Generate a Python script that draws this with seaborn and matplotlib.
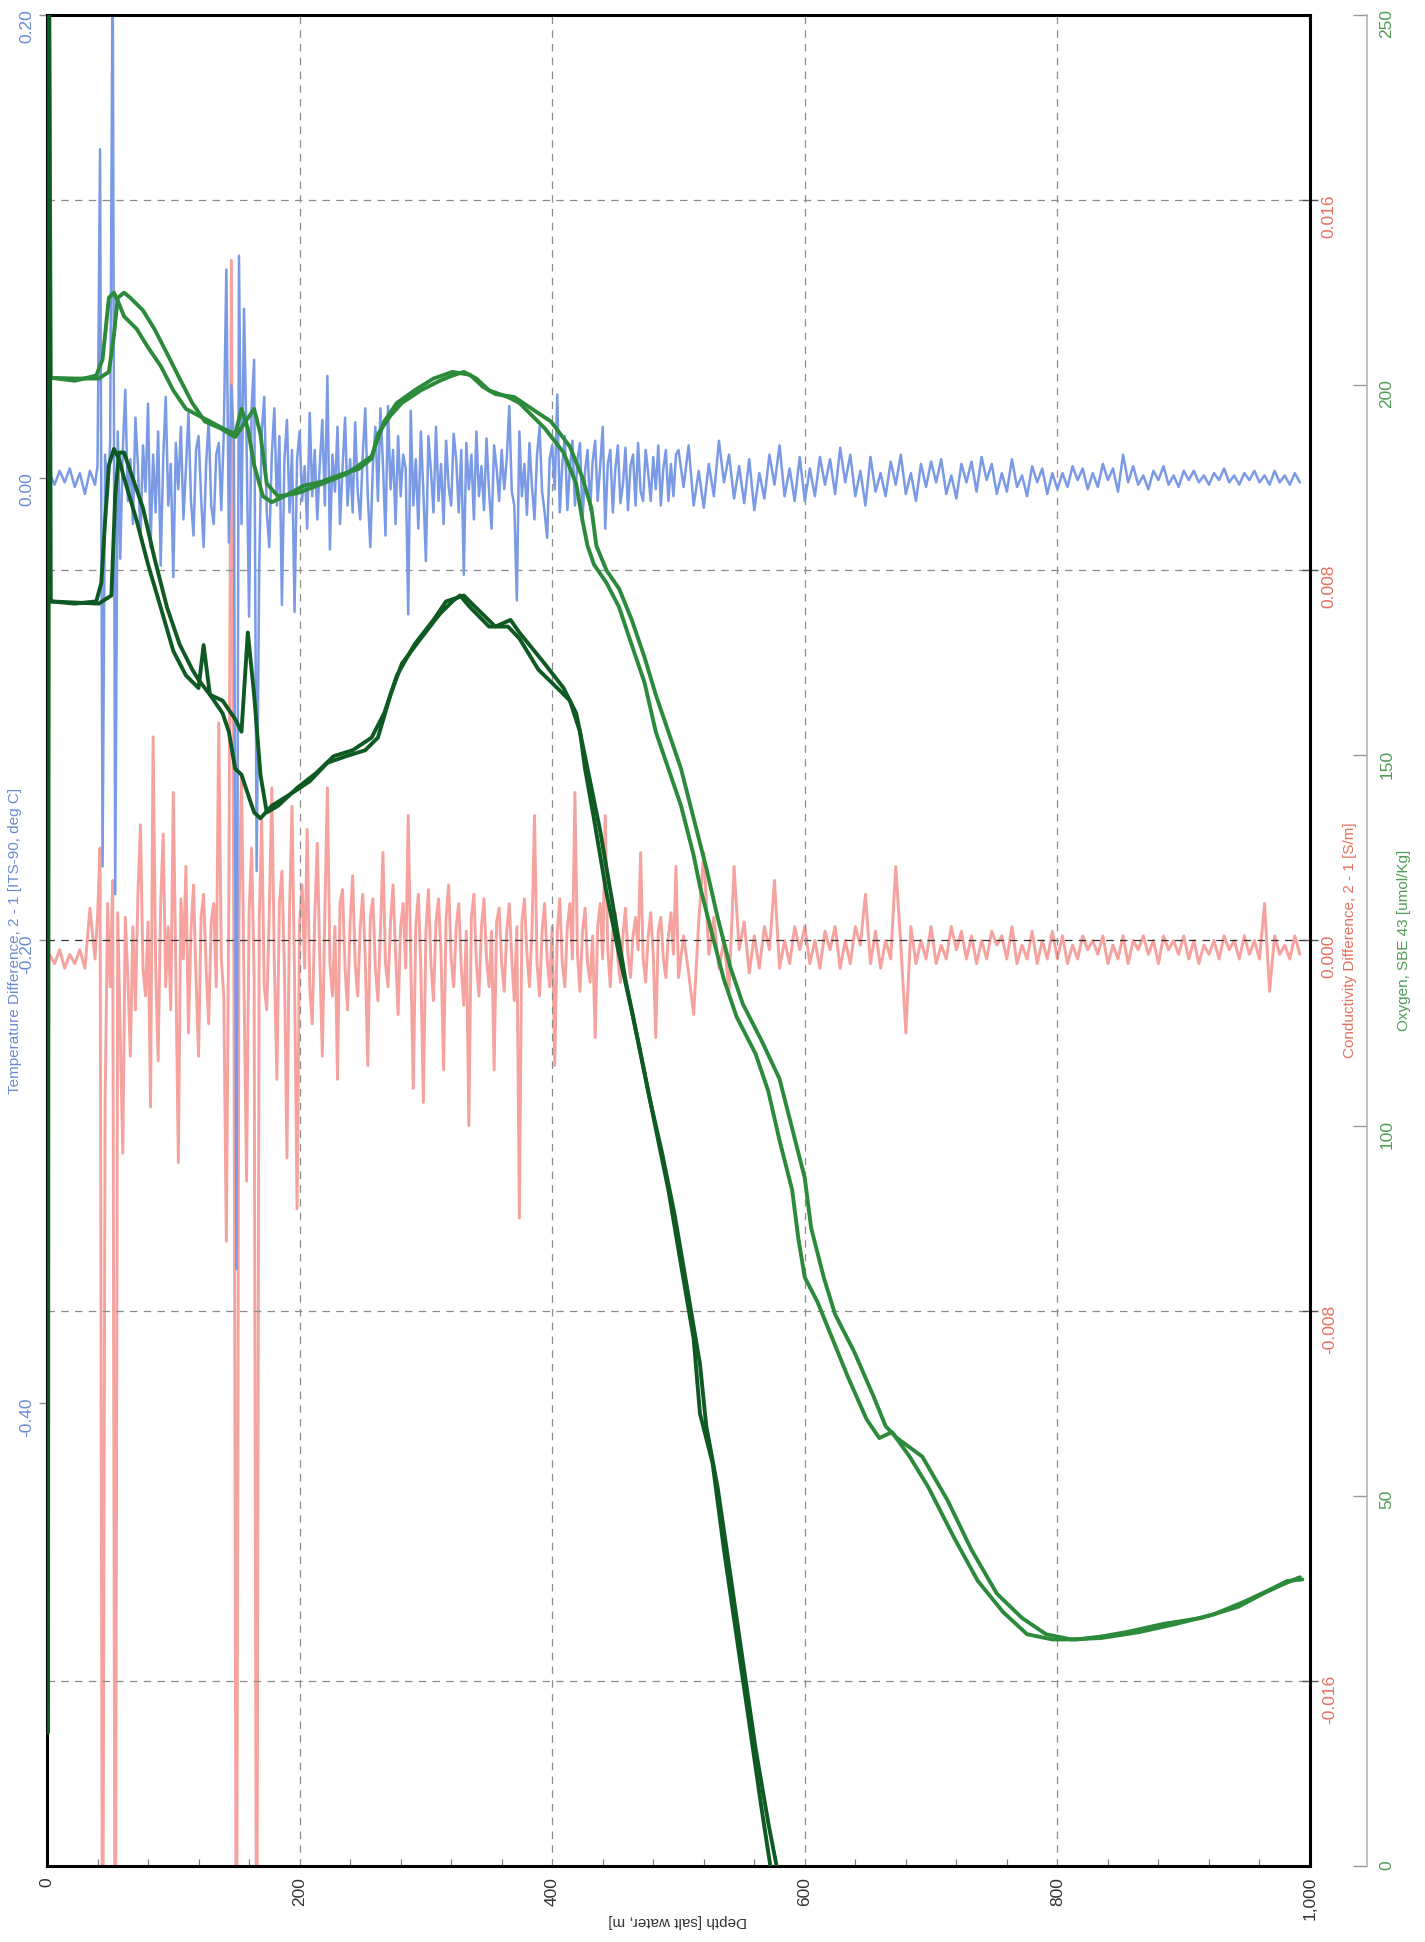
import numpy as np
import matplotlib
matplotlib.use('Agg')
import matplotlib.pyplot as plt
import seaborn as sns

# depth samples of the two difference channels [m] (finer where the signal is busy)
noise_depth = np.concatenate([np.arange(2, 40, 4), np.arange(40, 500, 2), np.arange(500, 993, 4)])

# Temperature Difference, 2 - 1  [milli deg C]
temp_diff_mdeg = [
    # 2 .. 38 m
    2, -3, 3, -2, 4, -4, 2, -7, 3, -3,
    # 40 .. 498 m, 2 m steps, one row = 50 m
    5, 142, -168, 10, -8, 15, 230, -180, 20, -35, 12, 38, -10, 8, -20, 26, 5, -25, 14, -6, 32, -30, 10, -15, 20,
    -38, 8, 35, -12, 6, -43, 15, -5, 22, -18, 4, 28, -10, -25, 12, 18, -8, -30, 6, 25, -12, -20, 10, 15, -14,
    20, 90, -28, 40, 15, -342, 96, -20, 73, 15, -60, 30, 51, -170, -40, 20, 35, -15, -30, 10, 30, -12, 18, -55, 8,
    25, -15, 12, -58, 8, 20, -10, 5, -22, 28, -8, 12, -18, 6, 25, -12, 44, -31, 10, -6, 22, -20, 4, 26, -12,
    8, -15, 24, -6, -18, 10, 30, -8, -30, 5, 22, -10, 30, 6, -25, 31, -5, 12, -20, 18, -8, 10, 4, -59, 29,
    -12, 8, -22, 20, -6, -36, 18, 3, -15, 22, -10, 6, -20, 16, -4, -12, 19, 8, -15, 12, -42, 15, -5, 10, -18,
    20, -8, 5, -14, 17, -6, -22, 14, 4, -10, 12, -5, 8, 31, -6, -12, -53, 20, -8, 6, -16, 15, -4, -18, 10,
    22, -6, -15, -26, 8, 14, -5, 36, -15, 6, 18, -14, 4, 16, -12, 8, 15, -18, 3, 12, -14, 7, 16, -10, 5,
    22, -22, 6, 12, -15, 4, 14, -11, -3, 13, -14, 5, 10, -12, 15, -6, -10, 12, 2, -10, 9, -5, 14, -12, 4,
    12, -10, 6, -8, 10,
    # 500 .. 992 m, 4 m steps, one row = 100 m
    12, -4, 14, -12, 3, -13, 6, -8, 16, -2, 10, -9, 5, -11, 8, -14, 2, -9, 10, -3, 14, -8, 4, -10, 9,
    -10, 4, -8, 9, -3, 8, -7, 13, -2, 10, -8, 3, -12, 9, -6, 2, -8, 7, -3, 10, -7, 2, -10, 6, -4,
    7, -2, 8, -7, 1, -9, 6, -2, 7, -6, 9, -1, 6, -7, 2, -6, 8, -4, 1, -8, 5, -2, 4, -7, 2,
    -5, 2, -4, 5, -1, 4, -5, 2, -4, 6, -1, 4, -6, 10, -2, 5, -3, 1, -5, 3, -1, 5, -3, 1, -4,
    3, -1, 3, -2, 1, -3, 2, -1, 4, -2, 1, -3, 2, -1, 3, -2, 1, -3, 3, -2, 1, -3, 2, -2,
]

# Conductivity Difference, 2 - 1  [mS/m]
cond_diff_mSm = [
    # 2 .. 38 m
    -0.3, -0.5, -0.2, -0.6, -0.3, -0.5, -0.2, -0.6, 0.7, -0.4,
    # 40 .. 498 m
    0.5, 2.0, -25, -3.5, 0.8, -1.0, 1.3, -25, 0.6, -2.0, -4.6, 0.5, -0.8, -2.5, 0.3, -1.5, 1.0, 2.5, -0.6, -1.2, 0.4, -3.6, 4.4, -0.5, -2.6,
    0.8, 2.3, -1.0, 0.3, -1.5, 3.2, -0.6, -4.8, 0.9, -0.4, 1.6, -2.0, 0.2, 1.2, -0.8, -2.5, 0.5, 1.0, -0.6, -1.8, 0.4, 0.8, -1.0, 4.7, -0.4,
    -1.2, -6.5, 1.0, 14.7, -0.8, -25, 0.5, 3.6, -1.0, -5.2, 0.6, 2.0, -0.8, -25, 0.4, 2.6, -1.0, -1.5, 0.6, 3.3, -0.5, -3.0, 0.8, 1.5, -0.6,
    -4.7, 0.6, 2.9, -0.8, -5.8, 0.4, 1.2, -0.6, 2.4, -1.0, -1.8, 0.5, 2.1, -0.4, -2.5, 0.6, 3.3, -0.5, -1.2, 0.3, -3.0, 0.8, 1.1, -0.6, -1.5,
    0.4, 1.4, -0.5, -1.2, 0.3, 1.0, -0.4, -2.7, 0.5, 0.9, -0.6, -1.3, 0.2, 1.9, -0.5, -1.0, 0.4, 1.2, -0.3, -1.6, 0.3, 0.8, -0.6, 2.7, -0.4,
    -3.2, 0.3, 1.0, -0.6, -3.5, 0.2, 1.1, -0.5, -1.3, 0.4, 0.9, -0.3, -2.8, 0.5, 1.2, -0.4, -1.0, 0.3, 0.8, -0.6, -1.4, 0.2, -4.0, 0.5, 1.0,
    -0.5, -1.2, 0.3, 0.9, -0.4, -1.0, 0.2, -2.8, 0.4, 0.7, -0.5, -1.1, 0.2, 0.8, -0.4, -1.3, 0.3, -6.0, 0.4, 0.9, -0.3, -1.0, 0.2, 2.7, -0.5,
    -1.2, 0.2, 0.8, -0.4, -1.0, 0.3, -2.7, 0.2, 0.9, -0.5, -1.0, 0.3, 0.8, -0.4, 3.2, -0.3, -1.1, 0.2, 0.7, -0.5, -0.9, 0.1, -2.1, 0.3, 0.8,
    -0.4, 2.7, -0.2, -1.0, 0.2, 0.6, -0.4, -0.9, 0.1, 0.7, -0.3, -0.8, 0.1, 0.5, -0.2, 1.9, -0.4, -0.9, 0.1, 0.6, -0.3, -2.1, 0.2, 0.5, -0.4,
    -0.8, 0.1, 0.6, -0.3, 1.6,
    # 500 .. 992 m
    -0.8, 0.1, -0.7, -1.6, 0.4, 1.9, -0.3, 0.5, -0.6, 0.0, -1.1, 1.6, -0.2, 0.4, -0.7, 0.1, -0.6, 0.3, -0.2, 1.3, -0.6, 0.0, -0.5, 0.3, -0.2,
    0.3, -0.5, 0.0, -0.6, 0.2, -0.2, 0.3, -0.6, 0.0, -0.5, 0.3, -0.1, 1.0, -0.5, 0.2, -0.6, 0.0, -0.4, 1.6, -0.1, -2.0, 0.3, -0.5, 0.0, -0.4,
    0.3, -0.5, -0.1, -0.4, 0.3, -0.2, 0.2, -0.4, 0.1, -0.5, 0.0, -0.4, 0.2, -0.1, 0.1, -0.4, 0.3, -0.5, -0.1, -0.4, 0.2, -0.5, 0.0, -0.4, 0.2,
    -0.4, 0.1, -0.5, -0.1, -0.4, 0.1, -0.2, 0.0, -0.3, 0.1, -0.5, -0.1, -0.4, 0.1, -0.5, 0.0, -0.2, 0.1, -0.3, 0.0, -0.5, 0.1, -0.2, 0.0, -0.3,
    0.1, -0.4, 0.0, -0.5, -0.1, -0.3, 0.0, -0.4, 0.1, -0.2, 0.0, -0.4, 0.1, -0.3, 0.0, -0.4, 0.8, -1.1, 0.1, -0.3, -0.1, -0.4, 0.1, -0.3,
]

# Oxygen, SBE 43 [umol/Kg] - light green pair
oxy_light_a_depth = [0.5, 1.5, 3, 22, 39, 44, 47, 49, 53, 57, 61, 71, 80, 90, 100, 110, 120, 129, 139, 149, 154, 159, 164,
                     171, 178, 188, 203, 218, 232, 247, 257, 262, 272, 281, 296, 311, 321, 330, 340, 350, 365, 374, 384,
                     394, 409, 419, 424, 428, 433, 443, 453, 463, 473, 482, 492, 502, 512, 517, 527, 536, 546, 561, 571,
                     580, 590, 595, 600, 610, 620, 634, 649, 659, 669, 683, 698, 718, 737, 757, 776, 796, 816, 835, 855,
                     884, 914, 943, 963, 978, 992]
oxy_light_a = [52, 262, 201, 200.6, 201.3, 203.5, 208.5, 211.8, 212.5, 211, 209.3, 207.6, 205.1, 202.6, 199.3, 196.8, 195.9,
               195.1, 194.2, 193.4, 196.8, 194.2, 189.2, 185, 184.2, 185, 186.4, 187, 187.9, 188.7, 190.1, 193.4, 195.9,
               197.6, 199.3, 200.6, 201.3, 201.8, 200.9, 199.3, 198.4, 197.6, 195.9, 194.2, 190.9, 186.7, 181.7, 178.3,
               175.8, 173.3, 170, 164.9, 159.9, 153.2, 148.2, 143.2, 136.5, 132.3, 125.6, 119.7, 114.7, 109.7, 104.7, 98,
               91.3, 84.6, 79.5, 76.2, 72, 66.1, 60.3, 57.8, 58.6, 55.3, 51.1, 44.4, 38.5, 34.3, 31.3, 30.6, 30.6, 31,
               31.6, 32.7, 33.5, 35, 36.8, 38, 39]

oxy_light_b_depth = [2, 22, 41, 49, 53, 56, 61, 66, 76, 85, 95, 105, 115, 125, 137, 149, 164, 169, 174, 183, 198, 218, 237,
                     257, 267, 277, 291, 306, 321, 335, 345, 355, 370, 384, 399, 414, 424, 431, 435, 443, 453, 463, 473,
                     482, 492, 502, 512, 522, 531, 541, 551, 566, 580, 590, 600, 605, 615, 624, 639, 654, 664, 673, 693,
                     713, 732, 752, 772, 791, 811, 835, 865, 894, 924, 948, 968, 982, 994]
oxy_light_b = [201, 200.9, 200.9, 201.8, 206.8, 211.8, 212.5, 211.8, 210.1, 207.6, 204.3, 200.9, 197.6, 195.1, 194.2, 193,
               196.8, 193.4, 186.7, 185, 185.4, 186.7, 188, 190.4, 195.1, 197.6, 199.3, 200.9, 201.8, 201.4, 199.8, 198.8,
               198.4, 196.8, 195.1, 191.7, 187.5, 183.4, 178.3, 175, 172.5, 168.3, 163.3, 158.2, 153.2, 148.2, 141.5,
               134.8, 128.1, 121.4, 116.4, 111.4, 106.3, 99.6, 92.9, 86.2, 79.5, 74.5, 69.5, 63.6, 59.4, 57.8, 55.3, 49.4,
               42.7, 36.8, 33.5, 31.3, 30.6, 30.8, 31.6, 32.7, 34, 35.7, 37.3, 38.5, 38.7]

# dark green pair
oxy_dark_a_depth = [0.8, 1.5, 3, 22, 39, 43, 46, 49, 53, 57, 61, 71, 80, 90, 100, 110, 120, 124, 129, 139, 144, 149, 154,
                    159, 164, 169, 178, 193, 208, 222, 237, 252, 262, 272, 281, 296, 311, 321, 327, 335, 350, 365, 374,
                    389, 404, 414, 422, 426, 433, 443, 453, 463, 473, 482, 492, 502, 512, 517, 527, 536, 546, 556, 566, 573]
oxy_dark_a = [18, 262, 170.8, 170.5, 170.8, 173.3, 181.7, 189.2, 191.4, 190, 187.5, 181.7, 175.8, 170, 164.1, 160.8, 159.1,
              164.9, 158.2, 155.7, 153.2, 148.2, 147.4, 144.8, 142.3, 141.5, 143.2, 144.8, 146.5, 149, 149.9, 150.7, 152.4,
              158.2, 162.4, 165.8, 169.1, 170.8, 171.6, 170, 167.4, 167.4, 165.8, 161.6, 159.1, 157.4, 153.2, 148.2, 141.5,
              131.4, 123.1, 115.5, 107.2, 99.6, 91.3, 81.2, 71.2, 61.1, 54.4, 42.7, 31, 19.3, 7.5, -0.3]

oxy_dark_b_depth = [2, 41, 51, 54, 57, 61, 66, 76, 85, 95, 105, 115, 120, 129, 139, 149, 154, 159, 164, 169, 174, 183, 198,
                    213, 227, 242, 257, 267, 277, 291, 306, 316, 330, 340, 355, 367, 374, 394, 409, 419, 428, 438, 448,
                    458, 468, 477, 487, 497, 507, 517, 522, 531, 541, 551, 561, 571, 578]
oxy_dark_b = [170.8, 170.5, 171.6, 185, 190.9, 190.9, 188.4, 183.4, 176.7, 170, 165, 161.6, 160.2, 158.2, 157.4, 154.9,
              153.2, 166.6, 158.2, 147.4, 142.3, 143.2, 145.6, 147.6, 149.9, 150.7, 152.4, 155.7, 160.8, 165, 168.3, 170.8,
              171.6, 169.9, 167.4, 168.3, 166.6, 162.4, 159.1, 155.7, 148.2, 139.8, 129.8, 119.7, 111.4, 103.8, 96.3, 87.9,
              77.9, 67.8, 59.4, 51.1, 39.4, 27.6, 15.9, 5.9, -0.3]

depth_ticks = [0, 200, 400, 600, 800, 1000]
depth_labels = ['0', '200', '400', '600', '800', '1,000']
temp_ticks = [-0.4, -0.2, 0.0, 0.2]
temp_labels = ['-0.40', '-0.20', '0.00', '0.20']
cond_ticks = [-0.016, -0.008, 0.0, 0.008, 0.016]
cond_labels = ['-0.016', '-0.008', '0.000', '0.008', '0.016']
oxy_ticks = [0, 50, 100, 150, 200, 250]
oxy_labels = ['0', '50', '100', '150', '200', '250']

BLUE = '#7a9ae6'
BLUE_TXT = '#6a8ad4'
PINK = '#f6a29e'
RED_TXT = '#e4705e'
LIGHT_GREEN = '#2c8a3b'
DARK_GREEN = '#0f5a23'
GREEN_TXT = '#4f9a55'

sns.set_style('white')
plt.rcParams['font.family'] = ['Liberation Sans', 'DejaVu Sans']

temp = np.array(temp_diff_mdeg) / 1000.0
cond = np.array(cond_diff_mSm) / 1000.0

fig = plt.figure(figsize=(14.25, 19.42), dpi=100, facecolor='white')
ax_t = fig.add_axes([47 / 1425, 1 - 1866 / 1942, 1263 / 1425, 1851 / 1942])
ax_c = ax_t.twinx()
ax_o = ax_t.twinx()

# layering: conductivity at the back, temperature, then oxygen on top
ax_c.set_zorder(1)
ax_t.set_zorder(2)
ax_o.set_zorder(3)
ax_c.patch.set_visible(True)
ax_c.patch.set_facecolor('white')
ax_t.patch.set_visible(False)
ax_o.patch.set_visible(False)

sns.lineplot(x=noise_depth, y=cond, ax=ax_c, color=PINK, lw=2.1, estimator=None)
sns.lineplot(x=noise_depth, y=temp, ax=ax_t, color=BLUE, lw=1.8, estimator=None)
sns.lineplot(x=oxy_light_a_depth, y=oxy_light_a, ax=ax_o, color=LIGHT_GREEN, lw=2.8, sort=False, estimator=None)
sns.lineplot(x=oxy_light_b_depth, y=oxy_light_b, ax=ax_o, color=LIGHT_GREEN, lw=2.8, sort=False, estimator=None)
sns.lineplot(x=oxy_dark_a_depth, y=oxy_dark_a, ax=ax_o, color=DARK_GREEN, lw=2.8, sort=False, estimator=None)
sns.lineplot(x=oxy_dark_b_depth, y=oxy_dark_b, ax=ax_o, color=DARK_GREEN, lw=2.8, sort=False, estimator=None)

ax_t.set_xlim(0, 1000)
ax_t.set_ylim(-0.6, 0.2)
ax_c.set_ylim(-0.02, 0.02)
ax_o.set_ylim(0, 250)

# depth axis
ax_t.set_xticks(depth_ticks, labels=depth_labels)
ax_t.set_xticks(np.arange(0, 1001, 40), minor=True)
ax_t.tick_params(axis='x', which='major', direction='inout', length=12, width=1, color='#555555',
                 labelsize=12.5, labelrotation=90, labelcolor='#333333', pad=2)
ax_t.tick_params(axis='x', which='minor', direction='in', length=5, width=0.8, color='#777777', bottom=True)
ax_t.set_xlabel('')

# temperature axis (left)
ax_t.set_yticks(temp_ticks, labels=temp_labels)
ax_t.tick_params(axis='y', direction='out', length=6, width=1, color='#888888',
                 labelsize=12.5, labelrotation=90, labelcolor=BLUE_TXT, pad=3)
ax_t.set_ylabel('Temperature Difference, 2 - 1 [ITS-90, deg C]', color=BLUE_TXT, fontsize=11)
ax_t.yaxis.set_label_coords(-0.0198, 0.5)

# conductivity axis (right, on frame)
ax_c.set_yticks(cond_ticks, labels=cond_labels)
ax_c.tick_params(axis='y', direction='inout', length=11, width=1, color='#555555',
                 labelsize=12.5, labelrotation=90, labelcolor=RED_TXT, pad=3)
ax_c.set_ylabel('Conductivity Difference, 2 - 1 [S/m]', color=RED_TXT, fontsize=11)
ax_c.yaxis.set_label_coords(1.026, 0.5)

# oxygen axis (offset right)
ax_o.spines['right'].set_position(('axes', 1.0451))
ax_o.set_yticks(oxy_ticks, labels=oxy_labels)
ax_o.tick_params(axis='y', direction='in', length=10, width=1, color='#999999',
                 labelsize=12.5, labelrotation=90, labelcolor=GREEN_TXT, pad=9)
ax_o.set_ylabel('Oxygen, SBE 43 [umol/Kg]', color=GREEN_TXT, fontsize=11)
ax_o.yaxis.set_label_coords(1.069, 0.5)

for sp in ax_c.spines.values():
    sp.set_visible(False)
for name, sp in ax_o.spines.items():
    sp.set_visible(name == 'right')
ax_o.spines['right'].set_color('#b5b5b5')
ax_o.spines['right'].set_linewidth(1.2)
for sp in ax_t.spines.values():
    sp.set_visible(True)
    sp.set_color('black')
    sp.set_linewidth(2.2)

# dashed grid: depth lines on temperature axes, conductivity lines over the pink trace
ax_t.set_axisbelow(True)
ax_t.grid(axis='x', which='major', color='#8c8c8c', ls=(0, (6, 5)), lw=0.9)
ax_t.grid(axis='y', visible=False)
ax_c.set_axisbelow(False)
ax_c.grid(axis='y', color='#8c8c8c', ls=(0, (6, 5)), lw=0.9)
for gl, v in zip(ax_c.get_ygridlines(), cond_ticks):
    if v == 0.0:
        gl.set_color('#333333')
ax_o.grid(False)

fig.text(678 / 1425, 1 - 1921 / 1942, 'Depth [salt water, m]', rotation=180, ha='center', va='center',
         fontsize=11, color='#333333')

fig.savefig('out.png', dpi=100, facecolor='white')
